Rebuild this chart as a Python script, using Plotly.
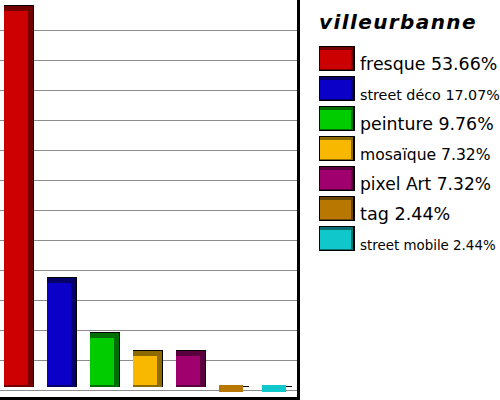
import plotly.graph_objects as go

# ---------------- data ----------------
title = "villeurbanne"
categories = ["fresque", "street déco", "peinture", "mosaïque", "pixel Art", "tag", "street mobile"]
percentages = [53.66, 17.07, 9.76, 7.32, 7.32, 2.44, 2.44]

# ---------------- style ----------------
front_colors = ["#CC0000", "#0A00C8", "#00CC00", "#F8B800", "#A0006E", "#B87800", "#10C8CC"]
dark_colors = ["#720000", "#07006B", "#006E00", "#8C6A00", "#5A003E", "#6A4500", "#0A7070"]
legend_font_sizes = [17.4, 14.3, 17.4, 15.6, 17.1, 17.6, 13.4]

W, H = 500, 400
PLOT_R = 297          # right edge of plot area (px)
PLOT_B = 397          # bottom edge of plot area (px)
K = 7.4385            # px per percent
SLOT = 43             # px between bars
X0 = 3.7              # px of first bar's left edge
BASE_PX = 386         # px where the axis minimum sits

base = min(percentages)

def pxx(p):
    return p / W

def pxy(p):
    return 1 - p / H

fig = go.Figure()

# back (outline) boxes
fig.add_trace(go.Bar(
    x=categories, y=[v - base + 1 / K for v in percentages], base=base - 1 / K,
    width=30 / SLOT, offset=0, marker=dict(color="#000000", line=dict(width=0)),
    hoverinfo="skip", showlegend=False))
# dark side boxes
fig.add_trace(go.Bar(
    x=categories, y=[v - base for v in percentages], base=base - 1 / K,
    width=29 / SLOT, offset=0, marker=dict(color=dark_colors, line=dict(width=0)),
    hoverinfo="skip", showlegend=False))
# front faces
fig.add_trace(go.Bar(
    x=categories, y=[v - base - 7 / K for v in percentages], base=base + 1 / K,
    width=24 / SLOT, offset=0, marker=dict(color=front_colors, line=dict(width=0)),
    hoverinfo="skip", showlegend=False))

shapes = [
    # thick frame on right and bottom
    dict(type="rect", xref="paper", yref="paper", x0=pxx(PLOT_R), x1=pxx(PLOT_R + 3),
         y0=pxy(H), y1=pxy(0), fillcolor="#000000", line=dict(width=0), layer="above"),
    dict(type="rect", xref="paper", yref="paper", x0=pxx(0), x1=pxx(PLOT_R + 3),
         y0=pxy(H), y1=pxy(PLOT_B), fillcolor="#000000", line=dict(width=0), layer="above"),
]
annotations = [
    dict(text="<span style=\"letter-spacing:1.4px\"><b><i>%s</i></b></span>" % title,
         xref="paper", yref="paper",
         x=pxx(319), y=pxy(22), xanchor="left", yanchor="middle", showarrow=False,
         font=dict(family="DejaVu Sans", size=20, color="#000000"),
         borderpad=0, borderwidth=0),
]

for i, (cat, pct) in enumerate(zip(categories, percentages)):
    top = 46 + 30 * i
    shapes.append(dict(type="rect", xref="paper", yref="paper",
                       x0=pxx(319), x1=pxx(355), y0=pxy(top + 25), y1=pxy(top),
                       fillcolor="#000000", line=dict(width=0)))
    shapes.append(dict(type="rect", xref="paper", yref="paper",
                       x0=pxx(320), x1=pxx(353), y0=pxy(top + 24), y1=pxy(top + 1),
                       fillcolor=dark_colors[i], line=dict(width=0)))
    shapes.append(dict(type="rect", xref="paper", yref="paper",
                       x0=pxx(320), x1=pxx(351), y0=pxy(top + 23), y1=pxy(top + 4),
                       fillcolor=front_colors[i], line=dict(width=0)))
    fs = legend_font_sizes[i]
    baseline = top + 24
    annotations.append(dict(
        text="%s %.2f%%" % (cat, pct), xref="paper", yref="paper",
        x=pxx(360), y=pxy(baseline - 0.35 * fs), xanchor="left", yanchor="middle",
        showarrow=False, font=dict(family="DejaVu Sans", size=fs, color="#000000"),
        borderpad=0, borderwidth=0))

fig.update_layout(
    width=W, height=H,
    margin=dict(l=0, r=0, t=0, b=0),
    paper_bgcolor="#FFFFFF", plot_bgcolor="#FFFFFF",
    barmode="overlay", bargap=0,
    showlegend=False,
    xaxis=dict(domain=[0, pxx(PLOT_R)], type="category",
               range=[-X0 / SLOT, (PLOT_R - X0) / SLOT],
               showgrid=False, showticklabels=False, ticks="", zeroline=False,
               showline=False, fixedrange=True),
    yaxis=dict(domain=[pxy(PLOT_B), 1],
               range=[base - (PLOT_B - BASE_PX) / K, base + BASE_PX / K],
               tick0=base - (390 - BASE_PX) / K, dtick=30 / K, tickmode="linear",
               showgrid=True, gridcolor="#8C8C8C", gridwidth=1,
               showticklabels=False, ticks="", zeroline=False, showline=False,
               fixedrange=True),
    shapes=shapes,
    annotations=annotations,
)

fig.write_html("out.html", config={"displayModeBar": False},
               post_script="document.body.style.margin='0px';document.body.style.overflow='hidden';")
